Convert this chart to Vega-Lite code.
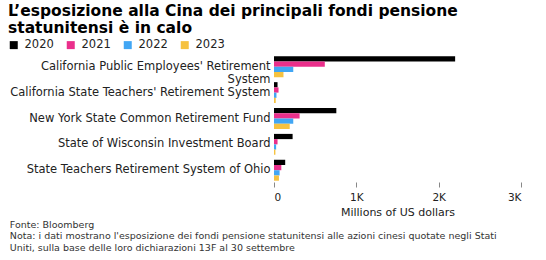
{
  "$schema": "https://vega.github.io/schema/vega-lite/v6.json",
  "background": "white",
  "padding": {"left": 8, "top": 3, "right": 5, "bottom": 2},
  "title": {
    "text": ["L’esposizione alla Cina dei principali fondi pensione", "statunitensi è in calo"],
    "anchor": "start",
    "frame": "bounds",
    "font": "DejaVu Sans",
    "fontSize": 15.5,
    "fontWeight": "bold",
    "color": "#000000",
    "lineHeight": 17,
    "offset": 3
  },
  "vconcat": [
    {
      "width": 247,
      "height": 127,
      "title": {
        "text": ["Fonte: Bloomberg", "Nota: i dati mostrano l'esposizione dei fondi pensione statunitensi alle azioni cinesi quotate negli Stati", "Uniti, sulla base delle loro dichiarazioni 13F al 30 settembre"],
        "orient": "bottom",
        "anchor": "start",
        "frame": "bounds",
        "font": "DejaVu Sans",
        "fontSize": 9.5,
        "fontWeight": "normal",
        "color": "#333333",
        "lineHeight": 11.5,
        "offset": 2
      },
      "data": {
        "values": [
          {"fund": "California Public Employees' Retirement System", "year": "2020", "value": 2200},
          {"fund": "California Public Employees' Retirement System", "year": "2021", "value": 617},
          {"fund": "California Public Employees' Retirement System", "year": "2022", "value": 234},
          {"fund": "California Public Employees' Retirement System", "year": "2023", "value": 115},
          {"fund": "California State Teachers' Retirement System", "year": "2020", "value": 43},
          {"fund": "California State Teachers' Retirement System", "year": "2021", "value": 55},
          {"fund": "California State Teachers' Retirement System", "year": "2022", "value": 30},
          {"fund": "California State Teachers' Retirement System", "year": "2023", "value": 21},
          {"fund": "New York State Common Retirement Fund", "year": "2020", "value": 757},
          {"fund": "New York State Common Retirement Fund", "year": "2021", "value": 311},
          {"fund": "New York State Common Retirement Fund", "year": "2022", "value": 234},
          {"fund": "New York State Common Retirement Fund", "year": "2023", "value": 191},
          {"fund": "State of Wisconsin Investment Board", "year": "2020", "value": 226},
          {"fund": "State of Wisconsin Investment Board", "year": "2021", "value": 43},
          {"fund": "State of Wisconsin Investment Board", "year": "2022", "value": 26},
          {"fund": "State of Wisconsin Investment Board", "year": "2023", "value": 17},
          {"fund": "State Teachers Retirement System of Ohio", "year": "2020", "value": 136},
          {"fund": "State Teachers Retirement System of Ohio", "year": "2021", "value": 89},
          {"fund": "State Teachers Retirement System of Ohio", "year": "2022", "value": 68},
          {"fund": "State Teachers Retirement System of Ohio", "year": "2023", "value": 60}
        ]
      },
      "mark": {"type": "bar"},
      "encoding": {
        "y": {
          "field": "fund",
          "type": "nominal",
          "sort": null,
          "scale": {"paddingInner": 0.19, "paddingOuter": 0.05},
          "axis": {
            "title": null,
            "domain": false,
            "ticks": false,
            "labelPadding": 4,
            "labelFont": "DejaVu Sans",
            "labelFontSize": 11.5,
            "labelColor": "#222222",
            "labelLimit": 400,
            "labelLineHeight": 13,
            "labelExpr": "datum.label == \"California Public Employees' Retirement System\" ? [\"California Public Employees' Retirement\", \"System\"] : datum.label"
          }
        },
        "yOffset": {"field": "year", "type": "nominal", "scale": {"paddingInner": 0, "paddingOuter": 0}},
        "x": {
          "field": "value",
          "type": "quantitative",
          "scale": {"domain": [0, 3000]},
          "axis": {
            "title": "Millions of US dollars",
            "titleFont": "DejaVu Sans",
            "titleFontSize": 11,
            "titleFontWeight": "normal",
            "titleColor": "#222222",
            "titlePadding": 4,
            "values": [0, 1000, 2000, 3000],
            "labelExpr": "datum.value == 0 ? '0' : (datum.value / 1000) + 'K'",
            "labelFont": "DejaVu Sans",
            "labelFontSize": 10.5,
            "labelColor": "#222222",
            "labelPadding": 5,
            "domain": false,
            "grid": false,
            "ticks": true,
            "tickColor": "#888888",
            "tickSize": 5,
            "tickWidth": 1
          }
        },
        "color": {
          "field": "year",
          "type": "nominal",
          "scale": {"domain": ["2020", "2021", "2022", "2023"], "range": ["#000000", "#ea2f8b", "#41a6f4", "#f6c240"]},
          "legend": {
            "title": null,
            "orient": "none",
            "direction": "horizontal",
            "legendX": -266,
            "legendY": -16,
            "symbolType": "square",
            "symbolSize": 64,
            "symbolStrokeWidth": 0,
            "labelFont": "DejaVu Sans",
            "labelFontSize": 11.5,
            "labelColor": "#222222",
            "columnPadding": 11,
            "labelOffset": 5
          }
        }
      }
    }
  ],
  "config": {"view": {"stroke": null}}
}
